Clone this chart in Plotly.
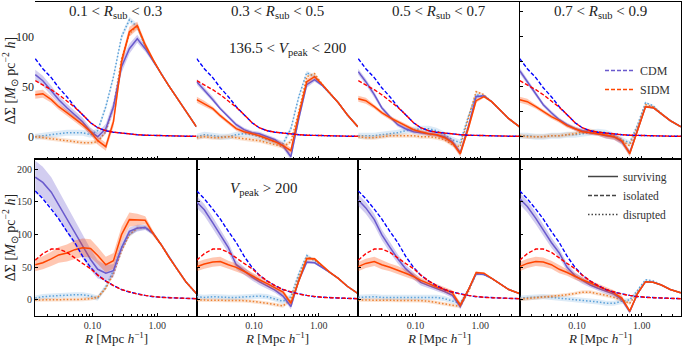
import plotly.graph_objects as go
from plotly.subplots import make_subplots

# radial bins [Mpc/h]
R = [0.013, 0.017, 0.023, 0.030, 0.040, 0.053, 0.070, 0.093, 0.12, 0.16, 0.21,
     0.28, 0.37, 0.49, 0.65, 0.86, 1.14, 1.5, 2.0, 2.75, 4.0]

COL_TITLES = ["0.1 < <i>R</i><sub>sub</sub> < 0.3", "0.3 < <i>R</i><sub>sub</sub> < 0.5",
              "0.5 < <i>R</i><sub>sub</sub> < 0.7", "0.7 < <i>R</i><sub>sub</sub> < 0.9"]
ROW_LABELS = ["136.5 < <i>V</i><sub>peak</sub> < 200", "<i>V</i><sub>peak</sub> > 200"]
X_TITLE = "<i>R</i> [Mpc <i>h</i><sup>−1</sup>]"
Y_TITLE = "ΔΣ [<i>M</i><sub>⊙</sub> pc<sup>−2</sup> <i>h</i>]"

# isolated halos (same for all R_sub bins)
ISO_CDM_TOP = [78, 68, 59, 49, 40, 30, 22, 14, 9, 6, 4.5, 3.5, 2.5, 2, 1.5, 1.2, 1.0, 0.8, 0.6, 0.5, 0.4]
ISO_SIDM_TOP = [56, 52, 47, 42, 36, 29.5, 22, 14, 9, 6, 4.5, 3.5, 2.5, 2, 1.5, 1.2, 1.0, 0.8, 0.6, 0.5, 0.4]
ISO_CDM_BOT = [167, 155, 139, 124, 105, 88, 67, 50, 38, 29, 22, 16, 12, 9, 7, 5, 4, 3.5, 3, 2.5, 2]
ISO_SIDM_BOT = [61, 71, 78, 78, 73, 64, 56, 48, 38, 29, 22, 16, 12, 9, 7, 5, 4, 3.5, 3, 2.5, 2]

# ---- top row: 136.5 < Vpeak < 200 ----
S_CDM_00 = [62, 56, 46, 37, 29, 22, 15, 5, 0, 8, 30, 70, 88, 98, 88, 76, 63, 51, 39, 26, 10]
S_SIDM_00 = [42, 43, 37, 30, 24, 18, 12, 5, -4, -10, 15, 75, 105, 111, 92, 77, 63, 51, 39, 26, 10]
D_CDM_00 = [0, 1, 2, 3, 4, 4, 4, 2, 6, 30, 60, 100, 117, 110, 90, 76, 63, 51, 39, 26, 10]
D_SIDM_00 = [0, -1, -2, -3, -4, -5, -6, -6, -5, 5, 30, 78, 103, 111, 90, 76, 63, 51, 39, 26, 10]

S_CDM_01 = [55, 47, 37, 28, 20, 12, 7, 4, 3, 0, -3, -9, -20, 18, 52, 57, 51, 43, 34, 22, 10]
S_SIDM_01 = [37, 33, 28, 21, 14, 8, 5, 3, 1, -2, -5, -9, -14, 22, 55, 60, 52, 43, 34, 22, 10]
D_CDM_01 = [0, 2, 1, 0, 0, 2, 3, 2, 0, -3, -5, -7, 8, 40, 64, 60, 51, 43, 34, 22, 10]
D_SIDM_01 = [-1, 0, -1, -1, 0, -1, -2, -3, -4, -6, -8, -10, -5, 25, 60, 63, 52, 43, 34, 22, 10]

S_CDM_02 = [65, 55, 42, 29, 20, 12, 8, 5, 4, 3, 2, 0, -5, -16, 10, 40, 41, 35, 27, 18, 10]
S_SIDM_02 = [38, 36, 30, 24, 19, 15, 11, 7, 5, 3, 2, -1, -6, -17, 8, 36, 40, 35, 27, 18, 10]
D_CDM_02 = [1, 1, 1, 2, 3, 4, 6, 7, 8, 8, 6, 2, -3, -6, 20, 42, 40, 35, 27, 18, 10]
D_SIDM_02 = [0, -1, -1, 0, 1, 1, 1, 1, 0, 0, -1, -3, -8, -10, 18, 45, 42, 35, 27, 18, 10]

S_CDM_03 = [66, 55, 43, 32, 24, 17, 12, 8, 6, 4, 3, 1, 0, -5, -16, 8, 30, 29, 23, 16, 10]
S_SIDM_03 = [37, 35, 30, 25, 20, 16, 11, 8, 5, 4, 3, 1.5, 0, -4, -17, 6, 30, 29, 23, 16, 10]
D_CDM_03 = [1, 1, 0, 0, 1, 1, 2, 2, 3, 4, 5, 4, 1, -3, -6, 12, 34, 31, 23, 16, 10]
D_SIDM_03 = [1, 0, 0, 0, 1, 1, 2, 3, 5, 6, 4, 2, 0, -4, -9, 10, 32, 30, 23, 16, 10]

# ---- bottom row: Vpeak > 200 ----
S_CDM_10 = [188, 180, 165, 145, 125, 103, 82, 62, 47, 41, 45, 80, 105, 110, 111, 102, 85, 66, 48, 28, 10]
S_SIDM_10 = [54, 57, 63, 69, 72, 77, 80, 79, 68, 54, 60, 100, 123, 123, 122, 102, 85, 66, 48, 28, 10]
D_CDM_10 = [3, 5, 6, 7, 8, 8, 8, 6, 3, 20, 45, 80, 100, 110, 111, 102, 85, 66, 48, 28, 10]
D_SIDM_10 = [0, 0, 0, 0, 1, 1, 1, 2, 4, 18, 40, 75, 100, 110, 111, 102, 85, 66, 48, 28, 10]

S_CDM_11 = [150, 138, 118, 100, 80, 54, 44, 35, 28, 21, 15, 6, -10, 30, 58, 57, 50, 42, 33, 21, 10]
S_SIDM_11 = [51, 55, 58, 59, 54, 50, 44, 37, 31, 25, 19, 12, -5, 30, 63, 63, 52, 42, 33, 21, 10]
D_CDM_11 = [5, 4, 5, 4, 4, 4, 5, 6, 6, 5, 2, -2, 5, 40, 68, 60, 50, 42, 33, 21, 10]
D_SIDM_11 = [0, 0, 0, 0, 0, -1, -1, -2, -3, -5, -7, -9, 0, 35, 65, 62, 50, 42, 33, 21, 10]

S_CDM_12 = [153, 141, 123, 100, 81, 63, 48, 37, 27, 22, 18, 13, 7, -10, 15, 40, 39, 33, 25, 16, 10]
S_SIDM_12 = [51, 56, 59, 54, 50, 46, 41, 36, 30, 25, 20, 16, 11, -8, 15, 42, 41, 33, 25, 16, 10]
D_CDM_12 = [4, 5, 5, 4, 4, 4, 4, 4, 5, 5, 4, 2, -1, -5, 15, 40, 39, 33, 25, 16, 10]
D_SIDM_12 = [0, 0, -1, -1, 0, 0, 0, 0, -1, -2, -4, -6, -8, -10, 12, 40, 39, 33, 25, 16, 10]

S_CDM_13 = [155, 143, 125, 107, 88, 72, 50, 37, 30, 23, 18, 13, 9, 1, -18, 10, 28, 27, 23, 16, 11]
S_SIDM_13 = [51, 56, 59, 58, 54, 47, 42, 36, 31, 26, 21, 16, 11, 3, -17, 10, 28, 27, 23, 16, 11]
D_CDM_13 = [3, 4, 5, 5, 4, 3, 2, 0, -1, -2, -3, -5, -5, -2, 0, 15, 31, 29, 23, 16, 11]
D_SIDM_13 = [1, 2, 3, 4, 5, 6, 8, 10, 12, 12, 10, 7, 4, 0, -5, 12, 28, 27, 23, 16, 11]

# ---- 1-sigma band half widths ----
E_SC_TOP0 = [5, 5, 5, 4, 4, 4, 4, 4, 4, 5, 6, 6, 5, 4, 3, 2, 1, 1, 1, 1, 1]
E_SS_TOP0 = [4, 4, 3, 3, 3, 3, 3, 3, 4, 4, 5, 5, 5, 4, 3, 2, 1, 1, 1, 1, 1]
E_SC_TOP = [3, 3, 3, 2, 2, 2, 2, 2, 2, 2, 2, 3, 3, 3, 3, 2, 1, 1, 1, 1, 1]
E_SS_TOP = [3, 3, 2, 2, 2, 2, 2, 2, 2, 2, 2, 3, 3, 3, 3, 2, 1, 1, 1, 1, 1]
E_D_TOP = [3, 3, 3, 3, 3, 3, 3, 3, 3, 3, 3, 3, 3, 3, 2, 2, 1, 1, 1, 1, 1]
E_SC_BOT0 = [25, 24, 23, 22, 21, 20, 18, 16, 14, 12, 10, 8, 6, 5, 4, 3, 2, 2, 1, 1, 1]
E_SS_BOT0 = [10, 10, 11, 12, 13, 14, 14, 14, 13, 12, 12, 12, 11, 9, 6, 4, 2, 2, 1, 1, 1]
E_SC_BOT = [9, 9, 9, 8, 8, 7, 6, 5, 5, 4, 4, 4, 4, 4, 3, 2, 1, 1, 1, 1, 1]
E_SS_BOT = [7, 7, 7, 7, 6, 6, 5, 5, 4, 4, 4, 4, 4, 4, 3, 2, 1, 1, 1, 1, 1]
E_D_BOT = [4, 4, 4, 4, 4, 4, 4, 4, 4, 4, 4, 4, 4, 4, 3, 2, 1, 1, 1, 1, 1]

PANELS = {
    (0, 0): (S_CDM_00, S_SIDM_00, D_CDM_00, D_SIDM_00, E_SC_TOP0, E_SS_TOP0, E_D_TOP),
    (0, 1): (S_CDM_01, S_SIDM_01, D_CDM_01, D_SIDM_01, E_SC_TOP, E_SS_TOP, E_D_TOP),
    (0, 2): (S_CDM_02, S_SIDM_02, D_CDM_02, D_SIDM_02, E_SC_TOP, E_SS_TOP, E_D_TOP),
    (0, 3): (S_CDM_03, S_SIDM_03, D_CDM_03, D_SIDM_03, E_SC_TOP, E_SS_TOP, E_D_TOP),
    (1, 0): (S_CDM_10, S_SIDM_10, D_CDM_10, D_SIDM_10, E_SC_BOT0, E_SS_BOT0, E_D_BOT),
    (1, 1): (S_CDM_11, S_SIDM_11, D_CDM_11, D_SIDM_11, E_SC_BOT, E_SS_BOT, E_D_BOT),
    (1, 2): (S_CDM_12, S_SIDM_12, D_CDM_12, D_SIDM_12, E_SC_BOT, E_SS_BOT, E_D_BOT),
    (1, 3): (S_CDM_13, S_SIDM_13, D_CDM_13, D_SIDM_13, E_SC_BOT, E_SS_BOT, E_D_BOT),
}
ISO = {0: (ISO_CDM_TOP, ISO_SIDM_TOP), 1: (ISO_CDM_BOT, ISO_SIDM_BOT)}

C_SURV = "#6a5acd"; C_SURV_S = "#ff4500"
C_ISO = "#0000ff"; C_ISO_S = "#ff0000"
C_DIS = "#5aa0d8"; C_DIS_S = "#ec8030"
BAND = {C_SURV: "rgba(106,90,205,0.30)", C_SURV_S: "rgba(255,69,0,0.30)",
        C_DIS: "rgba(120,175,225,0.25)", C_DIS_S: "rgba(236,128,48,0.22)"}

FONT = "Liberation Serif"
fig = make_subplots(rows=2, cols=4, shared_xaxes=True, shared_yaxes=True,
                    horizontal_spacing=0, vertical_spacing=0)


def band(y, e, color, r, c):
    up = [a + b for a, b in zip(y, e)]
    lo = [a - b for a, b in zip(y, e)]
    fig.add_trace(go.Scatter(x=R, y=up, mode="lines", line=dict(width=0), showlegend=False,
                             hoverinfo="skip"), row=r, col=c)
    fig.add_trace(go.Scatter(x=R, y=lo, mode="lines", line=dict(width=0), fill="tonexty",
                             fillcolor=BAND[color], showlegend=False, hoverinfo="skip"), row=r, col=c)


def line(y, color, dash, r, c, w=1.5):
    fig.add_trace(go.Scatter(x=R, y=y, mode="lines", line=dict(color=color, width=w, dash=dash),
                             showlegend=False), row=r, col=c)


DOT = "1.5px,2px"
DASH = "4px,2px"
for (ri, ci), (sc, ss, dc, ds, esc, ess, ed) in PANELS.items():
    r, c = ri + 1, ci + 1
    band(dc, ed, C_DIS, r, c); line(dc, C_DIS, DOT, r, c)
    band(ds, [v * 0.7 for v in ed], C_DIS_S, r, c); line(ds, C_DIS_S, DOT, r, c)
    band(sc, esc, C_SURV, r, c); line(sc, C_SURV, "solid", r, c)
    band(ss, ess, C_SURV_S, r, c); line(ss, C_SURV_S, "solid", r, c)
    ic, isd = ISO[ri]
    line(ic, C_ISO, DASH, r, c, 1.4)
    line(isd, C_ISO_S, DASH, r, c, 1.4)

# legends
for name, col in [("CDM", C_SURV), ("SIDM", C_SURV_S)]:
    fig.add_trace(go.Scatter(x=[None], y=[None], mode="lines", name=name,
                             line=dict(color=col, width=1.4, dash=DASH), legend="legend"), row=1, col=4)
for name, d in [("surviving", "solid"), ("isolated", DASH), ("disrupted", DOT)]:
    fig.add_trace(go.Scatter(x=[None], y=[None], mode="lines", name=name,
                             line=dict(color="#444444", width=1.5, dash=d), legend="legend2"), row=2, col=4)

axis_common = dict(showline=True, linecolor="black", linewidth=1, mirror=True, showgrid=False,
                   zeroline=False, ticks="inside", ticklen=3, tickcolor="black",
                   tickfont=dict(family=FONT, size=10, color="#333"))
for r in (1, 2):
    for c in (1, 2, 3, 4):
        fig.update_xaxes(type="log", range=[-1.89, 0.605], dtick=1, tickformat=".2f",
                         minor=dict(ticks="inside", ticklen=2, tickcolor="black", showgrid=False),
                         row=r, col=c, **axis_common)
    fig.update_yaxes(range=[-22.3, 134.7], tickvals=[0, 25, 50, 75, 100, 125], row=1, col=c, **axis_common)
for c in (1, 2, 3, 4):
    fig.update_yaxes(range=[-24.5, 215.8], tickvals=[0, 50, 100, 150, 200], row=2, col=c, **axis_common)
for r in (1, 2):
    fig.update_yaxes(title=dict(text=Y_TITLE, standoff=2, font=dict(family=FONT, size=14, color="#222")),
                     row=r, col=1)

# panel labels and x titles
xd = [(0.0, 0.25), (0.25, 0.5), (0.5, 0.75), (0.75, 1.0)]
for i, t in enumerate(COL_TITLES):
    xc = (xd[i][0] + xd[i][1]) / 2
    fig.add_annotation(text=t, xref="paper", yref="paper", x=xc,
                       y=(316 - 12) / 314, showarrow=False, xanchor="center", yanchor="middle",
                       font=dict(family=FONT, size=15, color="#222"))
    fig.add_annotation(text=X_TITLE, xref="paper", yref="paper", x=xc,
                       y=(316 - 338) / 314, showarrow=False, xanchor="center", yanchor="middle",
                       font=dict(family=FONT, size=13, color="#222"))
fig.add_annotation(text=ROW_LABELS[0], xref="paper", yref="paper", x=(287 - 35) / 646,
                   y=(316 - 49) / 314, showarrow=False, xanchor="center", yanchor="middle",
                   font=dict(family=FONT, size=15, color="#222"))
fig.add_annotation(text=ROW_LABELS[1], xref="paper", yref="paper", x=(263 - 35) / 646,
                   y=(316 - 189) / 314, showarrow=False, xanchor="center", yanchor="middle",
                   font=dict(family=FONT, size=15, color="#222"))

fig.update_layout(
    width=683, height=347, margin=dict(l=35, r=2, t=2, b=31),
    plot_bgcolor="white", paper_bgcolor="white",
    font=dict(family=FONT, color="#222"),
    legend=dict(x=(600 - 35) / 646, y=(316 - 56) / 314, xanchor="left", yanchor="top",
                traceorder="normal", bgcolor="rgba(0,0,0,0)", tracegroupgap=0,
                font=dict(family=FONT, size=12, color="#333")),
    legend2=dict(x=(583 - 35) / 646, y=(316 - 162) / 314, xanchor="left", yanchor="top",
                 traceorder="normal", bgcolor="rgba(0,0,0,0)", tracegroupgap=0,
                 font=dict(family=FONT, size=11.5, color="#333")),
)
fig.write_html("out.html", config={"displayModeBar": False},
               post_script="document.body.style.margin='0';")
